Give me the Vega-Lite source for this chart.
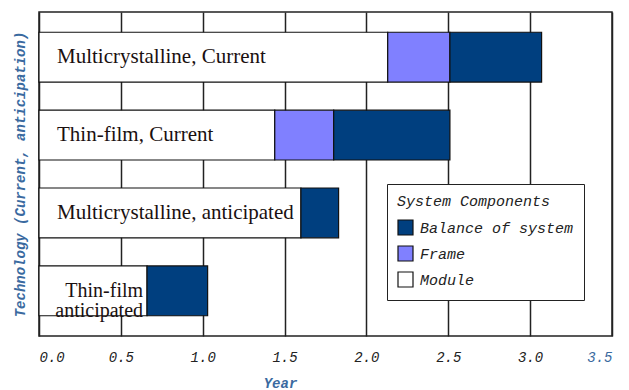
{
  "$schema": "https://vega.github.io/schema/vega-lite/v6.json",
  "autosize": "none",
  "width": 573,
  "height": 324,
  "padding": {"left": 39, "top": 12, "right": 17, "bottom": 54},
  "background": "white",
  "config": {
    "view": {"stroke": "#222222", "strokeWidth": 1.5},
    "font": "Liberation Mono"
  },
  "data": {
    "values": [
      {"tech": "Multicrystalline, Current", "component": "Module", "ord": 1, "value": 2.13},
      {"tech": "Multicrystalline, Current", "component": "Frame", "ord": 2, "value": 0.38},
      {"tech": "Multicrystalline, Current", "component": "Balance of system", "ord": 3, "value": 0.56},
      {"tech": "Thin-film, Current", "component": "Module", "ord": 1, "value": 1.44},
      {"tech": "Thin-film, Current", "component": "Frame", "ord": 2, "value": 0.36},
      {"tech": "Thin-film, Current", "component": "Balance of system", "ord": 3, "value": 0.71},
      {"tech": "Multicrystalline, anticipated", "component": "Module", "ord": 1, "value": 1.6},
      {"tech": "Multicrystalline, anticipated", "component": "Balance of system", "ord": 3, "value": 0.23},
      {"tech": "Thin-film anticipated", "component": "Module", "ord": 1, "value": 0.66},
      {"tech": "Thin-film anticipated", "component": "Balance of system", "ord": 3, "value": 0.37}
    ]
  },
  "encoding": {
    "y": {
      "field": "tech",
      "type": "nominal",
      "sort": ["Multicrystalline, Current", "Thin-film, Current", "Multicrystalline, anticipated", "Thin-film anticipated"],
      "scale": {"paddingInner": 0.36, "paddingOuter": 0.26},
      "axis": {
        "title": "Technology (Current, anticipation)",
        "labels": false,
        "ticks": false,
        "domain": false,
        "titleFont": "Liberation Mono",
        "titleFontStyle": "italic",
        "titleFontWeight": "bold",
        "titleFontSize": 14,
        "titleColor": "#3a6aa0",
        "titlePadding": 12
      }
    }
  },
  "layer": [
    {
      "mark": {"type": "bar", "stroke": "#111111", "strokeWidth": 1.2},
      "encoding": {
        "x": {
          "field": "value",
          "type": "quantitative",
          "stack": "zero",
          "scale": {"domain": [0, 3.5], "nice": false},
          "axis": {
            "title": "Year",
            "values": [0, 0.5, 1, 1.5, 2, 2.5, 3, 3.5],
            "format": ".1f",
            "grid": true,
            "gridColor": "#222222",
            "gridWidth": 1.5,
            "ticks": false,
            "domain": false,
            "labelFont": "Liberation Mono",
            "labelFontStyle": "italic",
            "labelFontSize": 14,
            "labelColor": {"condition": {"test": "datum.value == 3.5", "value": "#3a6aa0"}, "value": "#222222"},
            "labelPadding": 14,
            "titleFont": "Liberation Mono",
            "titleFontStyle": "italic",
            "titleFontWeight": "bold",
            "titleFontSize": 14,
            "titleColor": "#3a6aa0",
            "titlePadding": 12,
            "titleX": 241
          }
        },
        "order": {"field": "ord", "type": "quantitative"},
        "color": {
          "field": "component",
          "type": "nominal",
          "scale": {
            "domain": ["Balance of system", "Frame", "Module"],
            "range": ["#003F7F", "#8080FF", "#FFFFFF"]
          },
          "legend": {
            "title": "System Components",
            "orient": "none",
            "legendX": 348,
            "legendY": 172,
            "fillColor": "white",
            "strokeColor": "#222222",
            "padding": 10,
            "titleFont": "Liberation Mono",
            "titleFontStyle": "italic",
            "titleFontWeight": "normal",
            "titleFontSize": 15,
            "titleColor": "#222222",
            "titlePadding": 10,
            "labelFont": "Liberation Mono",
            "labelFontStyle": "italic",
            "labelFontSize": 15,
            "labelColor": "#222222",
            "labelOffset": 6,
            "symbolType": "square",
            "symbolSize": 225,
            "symbolStrokeColor": "#111111",
            "symbolStrokeWidth": 1.2,
            "symbolOpacity": 1,
            "rowPadding": 5,
            "labelLimit": 250
          }
        }
      }
    },
    {
      "transform": [{"filter": "datum.component == 'Module' && datum.tech != 'Thin-film anticipated'"}],
      "mark": {"type": "text", "align": "left", "baseline": "middle", "dx": 18, "font": "Liberation Serif", "fontSize": 21, "color": "#1a1010"},
      "encoding": {
        "x": {"datum": 0, "type": "quantitative"},
        "text": {"field": "tech"}
      }
    },
    {
      "transform": [{"filter": "datum.component == 'Module' && datum.tech == 'Thin-film anticipated'"}],
      "mark": {"type": "text", "align": "right", "baseline": "middle", "dx": -4, "font": "Liberation Serif", "fontSize": 20, "lineHeight": 20, "color": "#1a1010", "text": ["Thin-film", "anticipated"]},
      "encoding": {
        "x": {"field": "value", "type": "quantitative"}
      }
    }
  ]
}
